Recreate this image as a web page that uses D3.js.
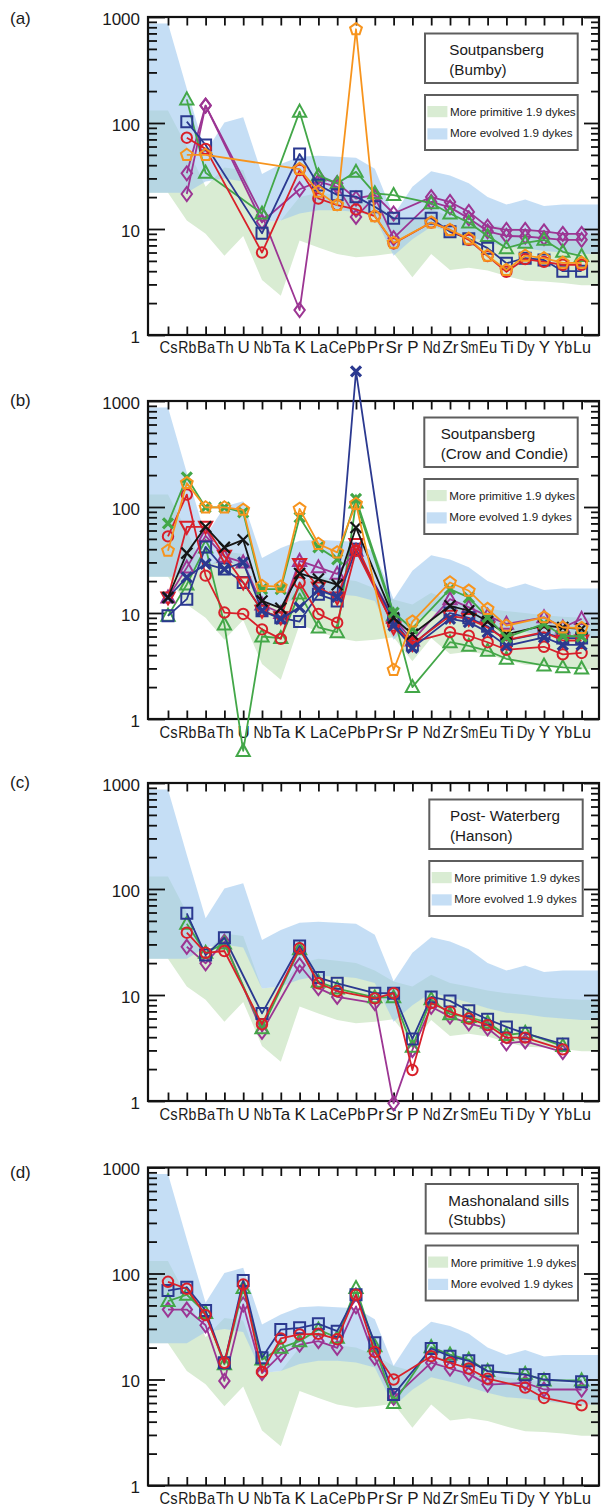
<!DOCTYPE html>
<html>
<head>
<meta charset="utf-8">
<script src="https://cdn.jsdelivr.net/npm/d3@7"></script>
<style>
  body { margin: 0; background: #fff; }
  svg { display: block; }
  text { font-family: "Liberation Sans", Arial, Helvetica, sans-serif; fill: #1a1a1a; }
</style>
</head>
<body>
<svg id="chart" width="601" height="1508"></svg>
<script>
// ---- element order (primitive-mantle normalised spider diagram) ----
const elements = ["Cs","Rb","Ba","Th","U","Nb","Ta","K","La","Ce","Pb","Pr","Sr","P","Nd","Zr","Sm","Eu","Ti","Dy","Y","Yb","Lu"];
const majorTicks = [1, 10, 100, 1000];
const minorTicks = [2,3,4,5,6,7,8,9,20,30,40,50,60,70,80,90,200,300,400,500,600,700,800,900];

// ---- reference fields of the 1.9 Ga dykes ----
const evolvedHigh   = [870, 210, 53, 101, 113, 33, 41, 48, 49, 48, 47, 37, 13.5, 25, 35, 32, 27, 20, 17, 19, 16.5, 17, 17];
const evolvedLow    = [22, 22, 28, 30, 28, 11.5, 12, 14, 15, 15, 14.5, 13, 5.6, 8, 10.5, 9.5, 8.5, 7.5, 6.8, 6.6, 6.2, 6, 5.8];
const primitiveHigh = [131, 60, 25, 38, 36, 11.5, 12, 20, 22, 21, 20, 17, 13.4, 12, 15.5, 13, 12, 11, 10.4, 10, 9.5, 9.2, 9];
const primitiveLow  = [22, 12, 9, 5.6, 8.6, 3.3, 2.35, 7.8, 6.7, 5.8, 5.4, 5.6, 5.9, 3.5, 5.8, 4.1, 4.3, 4.05, 3.6, 3.25, 3.2, 3.1, 2.95];

// ---- (a) Soutpansberg (Bumby) ----
const bumbySquare   = [null,103,62,null,null,9.1,null,51,26,21,20.2,16.2,12.6,null,12.6,9.4,8.1,6.6,4.75,5.3,5.1,4.0,4.0];
const bumbyCircle   = [null,72.7,57,null,null,6.0,null,36,19.4,16.8,15.3,13.2,7.3,null,11.5,9.8,7.9,5.55,3.95,5.2,4.9,4.6,4.6];
const bumbyPentagon = [null,50,50,null,null,null,null,36.8,22.5,16.8,766,13.2,7.4,null,11.5,9.8,8.1,5.6,4.1,5.6,5.3,4.8,4.8];
const bumbyTriangle = [null,167,34,null,null,14,null,128,32,27,34.6,21.7,20.9,null,17.5,14,11.5,8.6,6.6,7.4,7.9,6.1,5.55];
const bumbyDiamondA = [null,33.5,146,null,null,13.5,null,1.72,31,27,19.4,21,14,null,20,18,14.5,10.5,9.8,9.8,9.5,9,9];
const bumbyDiamondB = [null,21.4,146,null,null,11.7,null,23.7,28,25,13,20,8.2,null,18,16,12.6,9.5,8.6,8.5,8.2,7.9,7.9];

// ---- (b) Soutpansberg (Crow and Condie) ----
const crowGreenX     = [70,190,99,99,89,16.8,16.8,80,41.6,32,119,null,10.1,7.1,null,16.8,14,9.1,5.9,null,7.9,6.1,6.0];
const crowPentagon   = [38.7,168,99,99,94,18,17.7,96,44.8,37.3,107,null,2.9,8.3,null,19.4,16.2,10.9,7.6,null,9.1,7.3,7.2];
const crowBlueX      = [14,21.7,29,26,30,10.5,8.8,11.3,16.5,14.2,1900,null,7.6,4.7,null,8.8,8.2,6.6,4.9,null,5.9,5.0,5.0];
const crowSquare     = [9.4,13.5,42,26,19.4,10.5,9,8.3,15,13,40,null,8.5,5,null,10,9,7.5,5.5,null,6.5,5.8,5.8];
const crowCircle     = [52.8,131,22.5,10.1,9.8,7.0,5.7,19.4,9.8,8.1,38.7,null,7.6,5.3,null,6.6,6.1,5.3,4.5,null,4.8,4.07,4.2];
const crowTriangle   = [9.4,18.6,41.6,7.8,0.5,6.0,5.8,15.3,7.3,6.6,110,null,9.5,2.0,null,5.3,4.9,4.4,3.7,null,3.2,3.07,3.0];
const crowBlackX     = [14,36.7,65,41.6,49,13,11.1,23.6,20.9,18.5,64,null,9.0,6.3,null,11.7,10.5,8.3,6.3,null,7.6,7.3,7.1];
const crowTriDown    = [14,65,65,34.6,19.4,10.5,9.1,29,17.4,14,44.8,null,7.3,5.1,null,9.4,8.8,7.3,5.55,null,6.6,5.5,5.5];
const crowPurpleTri  = [14,26.8,53.5,34,30,12,10,31,27,23.4,38.7,null,9,5.5,null,13.5,11.3,9.4,7.9,null,9.1,7.3,8.8];

// ---- (c) Post-Waterberg (Hanson) ----
const hansonSquare   = [null,59,23.8,34.7,null,6.7,null,29,14.6,12.9,null,10.4,10.4,3.85,9.6,8.8,7.1,5.9,5.0,4.35,null,3.45,null];
const hansonCircle   = [null,38.7,25,26,null,5.3,null,27.6,12.9,10.9,null,9.3,10.4,1.96,8.4,6.95,6.0,5.2,3.96,3.96,null,3.07,null];
const hansonTriangle = [null,47,25,30.6,null,4.85,null,27,13.3,11.5,null,9.5,9.5,3.25,9.1,6.6,6.2,5.5,4.2,4.4,null,3.3,null];
const hansonDiamond  = [null,28.5,19.9,31.8,null,4.5,null,19.1,11.6,9.6,null,8.4,0.95,3.03,7.75,6.25,5.4,4.85,3.5,3.65,null,2.9,null];

// ---- (d) Mashonaland sills (Stubbs) ----
const stubbsSquare   = [69,74,44.8,14.4,86,16,29.6,30.7,33.5,28.6,63,22.2,7.2,null,19.6,16.6,15.0,12.0,null,11.1,10.0,null,9.5];
const stubbsCircle   = [83.5,71.8,40.5,14.4,78.7,11.8,24.4,26.6,27,24,63,18.2,10.0,null,16.6,14.4,12.7,10.2,null,8.4,6.7,null,5.7];
const stubbsTriangle = [55,63,42.5,13.9,73,15.4,19.9,23,29.6,24.7,73,20.6,6.0,null,20.2,17.2,15.4,12,null,11.3,9.8,null,9.8];
const stubbsDiamond  = [45.7,45.7,32.5,9.7,51,11.5,17.2,21.3,23,19.9,49,16,6.7,null,14.4,12.7,11.3,8.95,null,9.3,8.05,null,8.05];

// ---- palette ----
const NAVY = "#2b3990", RED = "#d8202a", GREEN = "#43a748", PURPLE = "#9c3593", ORANGE = "#f7941d", BLACK = "#151515";
const PRIM_FILL = "#d9ecd3", EVOL_FILL = "rgb(158,200,238)", EVOL_OPACITY = 0.6;

const panels = [
  { tag: "(a)", tagY: 24, top: 17, labelPad: 5.8,
    title: ["Soutpansberg", "(Bumby)"], titleX: 449.3, boxX: 425, boxW: 152.7,
    series: [
      { data: bumbyDiamondB, color: PURPLE, mark: "diamond" },
      { data: bumbyDiamondA, color: PURPLE, mark: "diamond" },
      { data: bumbyTriangle, color: GREEN, mark: "triangle" },
      { data: bumbySquare, color: NAVY, mark: "square" },
      { data: bumbyCircle, color: RED, mark: "circle" },
      { data: bumbyPentagon, color: ORANGE, mark: "pentagon" }
    ] },
  { tag: "(b)", tagY: 405.5, top: 401, labelPad: 7,
    title: ["Soutpansberg", "(Crow and Condie)"], titleX: 440.7, boxX: 424.3, boxW: 153.4,
    series: [
      { data: crowTriangle, color: GREEN, mark: "triangle" },
      { data: crowPurpleTri, color: PURPLE, mark: "triangle" },
      { data: crowSquare, color: NAVY, mark: "square" },
      { data: crowCircle, color: RED, mark: "circle" },
      { data: crowTriDown, color: RED, mark: "triangleDown" },
      { data: crowBlueX, color: NAVY, mark: "cross" },
      { data: crowBlackX, color: BLACK, mark: "xthin" },
      { data: crowGreenX, color: GREEN, mark: "cross" },
      { data: crowPentagon, color: ORANGE, mark: "pentagon" }
    ] },
  { tag: "(c)", tagY: 788, top: 783, labelPad: 7,
    title: ["Post- Waterberg", "(Hanson)"], titleX: 450, boxX: 429.3, boxW: 153.4,
    series: [
      { data: hansonDiamond, color: PURPLE, mark: "diamond" },
      { data: hansonTriangle, color: GREEN, mark: "triangle" },
      { data: hansonSquare, color: NAVY, mark: "square" },
      { data: hansonCircle, color: RED, mark: "circle" }
    ] },
  { tag: "(d)", tagY: 1177.5, top: 1167.5, labelPad: 6,
    title: ["Mashonaland sills", "(Stubbs)"], titleX: 448.3, boxX: 425.7, boxW: 152.3,
    series: [
      { data: stubbsDiamond, color: PURPLE, mark: "diamond" },
      { data: stubbsTriangle, color: GREEN, mark: "triangle" },
      { data: stubbsSquare, color: NAVY, mark: "square" },
      { data: stubbsCircle, color: RED, mark: "circle" }
    ] }
];

const svg = d3.select("#chart");
const frameLeft = 148, frameRight = 599, plotH = 318;
const x = d3.scalePoint().domain(elements).range([168, 581.6]);
const labelRoom = 18;   // element labels are squeezed horizontally to fit one tick spacing

// open marker outlines
const markPaths = {
  square: "M-5.5,-5.5H5.5V5.5H-5.5Z",
  circle: d3.symbol(d3.symbolCircle, 85)(),
  triangle: "M0,-7L6.6,5L-6.6,5Z",
  triangleDown: "M0,7L6.6,-5L-6.6,-5Z",
  diamond: "M0,-7L5.2,0L0,7L-5.2,0Z",
  pentagon: "M0,-6.2L5.9,-1.9L3.6,5L-3.6,5L-5.9,-1.9Z",
  cross: "M-5,-5L5,5M-5,5L5,-5",
  xthin: "M-5.5,-5.5L5.5,5.5M-5.5,5.5L5.5,-5.5"
};
const markWidth = { cross: 3.2, xthin: 2.2 };

panels.forEach(p => {
  const top = p.top, bottom = top + plotH;
  const y = d3.scaleLog().domain([1, 1000]).range([bottom, top]);
  const g = svg.append("g");

  // reference fields, carried out to the frame edges
  const band = (hi, lo) => {
    const pts = elements.map((e, i) => ({ x: x(e), hi: hi[i], lo: lo[i] }));
    pts.unshift({ x: frameLeft, hi: hi[0], lo: lo[0] });
    pts.push({ x: frameRight, hi: hi[hi.length - 1], lo: lo[lo.length - 1] });
    return pts;
  };
  const area = d3.area().x(d => d.x).y0(d => y(d.lo)).y1(d => y(d.hi));
  g.append("path").attr("d", area(band(primitiveHigh, primitiveLow))).attr("fill", PRIM_FILL);
  g.append("path").attr("d", area(band(evolvedHigh, evolvedLow))).attr("fill", EVOL_FILL).attr("fill-opacity", EVOL_OPACITY);

  // axes: ticks point inward on all four sides
  const axes = g.append("g").attr("class", "axes");
  const lMajor = axes.append("g").attr("transform", `translate(${frameLeft},0)`)
    .call(d3.axisLeft(y).tickValues(majorTicks).tickSize(-17).tickPadding(8).tickFormat(d3.format("d")));
  axes.append("g").attr("transform", `translate(${frameLeft},0)`)
    .call(d3.axisLeft(y).tickValues(minorTicks).tickSize(-9).tickFormat(""));
  axes.append("g").attr("transform", `translate(${frameRight},0)`)
    .call(d3.axisRight(y).tickValues(majorTicks).tickSize(-15).tickFormat(""));
  axes.append("g").attr("transform", `translate(${frameRight},0)`)
    .call(d3.axisRight(y).tickValues(minorTicks).tickSize(-8).tickFormat(""));
  axes.append("g").attr("transform", `translate(0,${top})`)
    .call(d3.axisTop(x).tickSize(-8.5).tickFormat(""));
  const bAxis = axes.append("g").attr("transform", `translate(0,${bottom})`)
    .call(d3.axisBottom(x).tickSize(-8.5).tickPadding(p.labelPad));
  axes.selectAll(".domain").remove();
  axes.selectAll(".tick line").attr("stroke", "#111").attr("stroke-width", 1.8);
  axes.selectAll("text").attr("font-size", 17).attr("font-family", "'Liberation Sans', Arial, sans-serif").attr("fill", "#1a1a1a");
  lMajor.selectAll("text").attr("dy", "0.42em");
  bAxis.selectAll("text").each(function () {
    const w = this.getComputedTextLength();
    if (w > labelRoom) d3.select(this).attr("transform", `scale(${(labelRoom / w).toFixed(3)},1)`);
  });

  g.append("rect").attr("x", frameLeft).attr("y", top).attr("width", frameRight - frameLeft).attr("height", plotH)
    .attr("fill", "none").attr("stroke", "#111").attr("stroke-width", 2.2);

  // panel tag
  g.append("text").attr("x", 10).attr("y", p.tagY).attr("font-size", 17).text(p.tag);

  // title box
  g.append("rect").attr("x", p.boxX).attr("y", top + 16.5).attr("width", p.boxW).attr("height", 49.5)
    .attr("fill", "#fff").attr("stroke", "#5e5e5e").attr("stroke-width", 2);
  p.title.forEach((t, i) => {
    g.append("text").attr("x", p.titleX).attr("y", top + 38.3 + i * 19.6).attr("font-size", 15.2).text(t);
  });

  // legend box
  const lg = g.append("g").attr("transform", `translate(${p.boxX},${top + 78})`);
  lg.append("rect").attr("width", p.boxW).attr("height", 55)
    .attr("fill", "#fff").attr("stroke", "#5e5e5e").attr("stroke-width", 2);
  const legendItems = [
    { label: "More primitive 1.9 dykes", fill: PRIM_FILL, opacity: 1 },
    { label: "More evolved 1.9 dykes", fill: EVOL_FILL, opacity: EVOL_OPACITY }
  ];
  legendItems.forEach((it, i) => {
    lg.append("rect").attr("x", 2.4).attr("y", 11 + i * 22.3).attr("width", 20).attr("height", 11.2)
      .attr("fill", it.fill).attr("fill-opacity", it.opacity);
    lg.append("text").attr("x", 25).attr("y", 21 + i * 21).attr("font-size", 11.6).text(it.label);
  });

  // sample profiles
  const line = d3.line().x(d => x(d.e)).y(d => y(d.v));
  p.series.forEach(s => {
    const pts = elements.map((e, i) => ({ e, v: s.data[i] })).filter(d => d.v != null);
    const sg = g.append("g");
    sg.append("path").attr("d", line(pts)).attr("fill", "none")
      .attr("stroke", s.color).attr("stroke-width", 1.8).attr("stroke-linejoin", "round");
    sg.selectAll("path.mark").data(pts).join("path").attr("class", "mark")
      .attr("transform", d => `translate(${x(d.e)},${y(d.v)})`)
      .attr("d", markPaths[s.mark])
      .attr("fill", "none").attr("stroke", s.color)
      .attr("stroke-width", markWidth[s.mark] || 2);
  });
});
</script>
</body>
</html>
